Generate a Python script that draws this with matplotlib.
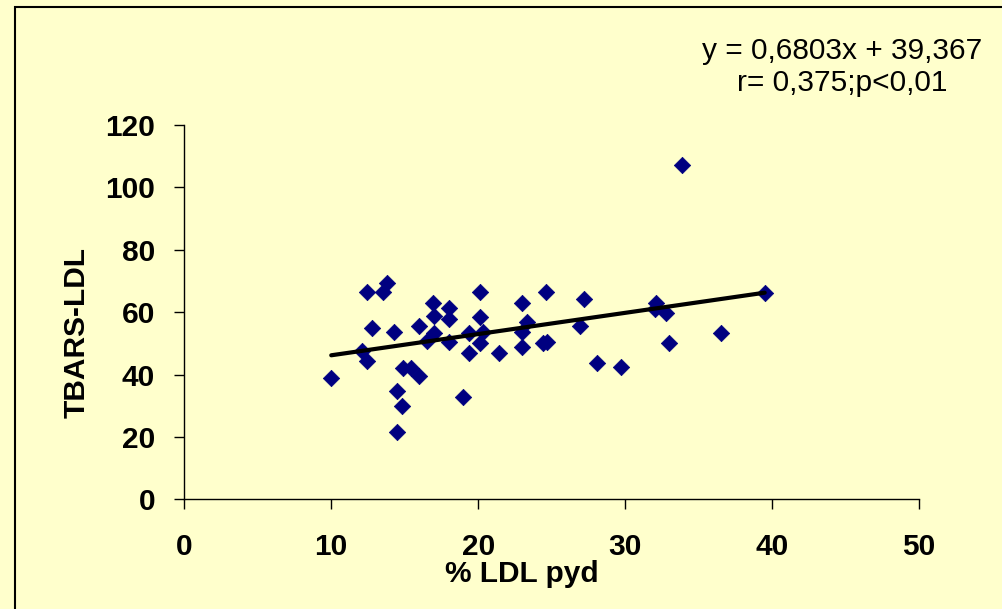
import matplotlib
matplotlib.use("Agg")
import matplotlib.pyplot as plt
import numpy as np
from matplotlib.patches import Rectangle

# % LDL pyd vs TBARS-LDL
ldl_pyd = [10.0, 12.4, 13.8, 13.5, 12.8, 12.1, 12.4, 14.3, 14.9, 15.4,
           16.0, 14.5, 14.8, 14.5, 16.9, 17.0, 18.0, 18.0, 16.0, 17.0,
           16.5, 18.0, 20.1, 20.1, 19.4, 20.3, 20.1, 19.4, 21.4, 19.0,
           23.0, 23.3, 23.0, 23.0, 24.6, 24.4, 24.7, 33.9, 39.5, 27.2,
           26.9, 28.1, 29.7, 32.1, 32.0, 32.8, 33.0, 36.5]
tbars_ldl = [39.0, 66.6, 69.3, 66.4, 54.8, 47.6, 44.4, 53.7, 42.2, 42.2,
             39.5, 34.7, 29.9, 21.7, 63.0, 58.8, 61.2, 57.8, 55.6, 53.4,
             50.8, 50.5, 66.6, 58.5, 53.4, 53.7, 50.0, 46.8, 46.8, 32.9,
             63.0, 56.9, 53.7, 48.7, 66.6, 50.2, 50.5, 107.2, 66.0, 64.1,
             55.6, 43.8, 42.5, 63.0, 60.9, 59.8, 50.0, 53.2]

slope = 0.6803
intercept = 39.367
x_ticks = [0, 10, 20, 30, 40, 50]
y_ticks = [0, 20, 40, 60, 80, 100, 120]

bg = "#FFFFCC"
W, H = 1003, 609

fig = plt.figure(figsize=(W / 100, H / 100), dpi=100, facecolor=bg)
ax = fig.add_axes([184.3 / W, 1 - 499.3 / H, (919 - 184.3) / W, (499.3 - 125) / H])
ax.set_facecolor(bg)

ax.scatter(ldl_pyd, tbars_ldl, marker="D", s=70, color="#000080",
           edgecolors="#000080", linewidths=0.5, zorder=3, clip_on=False)

xs = np.array([min(ldl_pyd), max(ldl_pyd)])
ax.plot(xs, slope * xs + intercept, color="black", lw=3.0, zorder=4,
        solid_capstyle="round")

ax.set_xlim(0, 50)
ax.set_ylim(0, 120)
ax.set_xticks(x_ticks)
ax.set_yticks(y_ticks)
for s in ("top", "right"):
    ax.spines[s].set_visible(False)
for s in ("left", "bottom"):
    ax.spines[s].set_linewidth(1.0)
    ax.spines[s].set_color("black")

tick_font = dict(family="Liberation Sans", weight="bold", size=21.5)
ax.tick_params(axis="both", direction="out", length=7, width=1.0, colors="black")
ax.tick_params(axis="x", pad=17)
ax.tick_params(axis="y", pad=14)
ax.set_xticklabels([str(v) for v in x_ticks], **tick_font)
ax.set_yticklabels([str(v) for v in y_ticks], **tick_font)

fig.text(522 / W, 1 - 574 / H, "% LDL pyd", ha="center", va="center", **tick_font)
fig.text(77 / W, 1 - 333 / H, "TBARS-LDL", ha="center", va="center",
         rotation=90, **tick_font)

fig.text(842 / W, 1 - 67 / H, "y = 0,6803x + 39,367\nr= 0,375;p<0,01",
         ha="center", va="center", multialignment="center",
         family="Liberation Sans", size=21.5, linespacing=1.15)

fig.patches.append(Rectangle((15 / W, -0.1), 1.2, (1 - 7 / H) + 0.1,
                             transform=fig.transFigure, fill=False,
                             edgecolor="black", lw=1.5))

fig.savefig("out.png", dpi=100, facecolor=bg)
